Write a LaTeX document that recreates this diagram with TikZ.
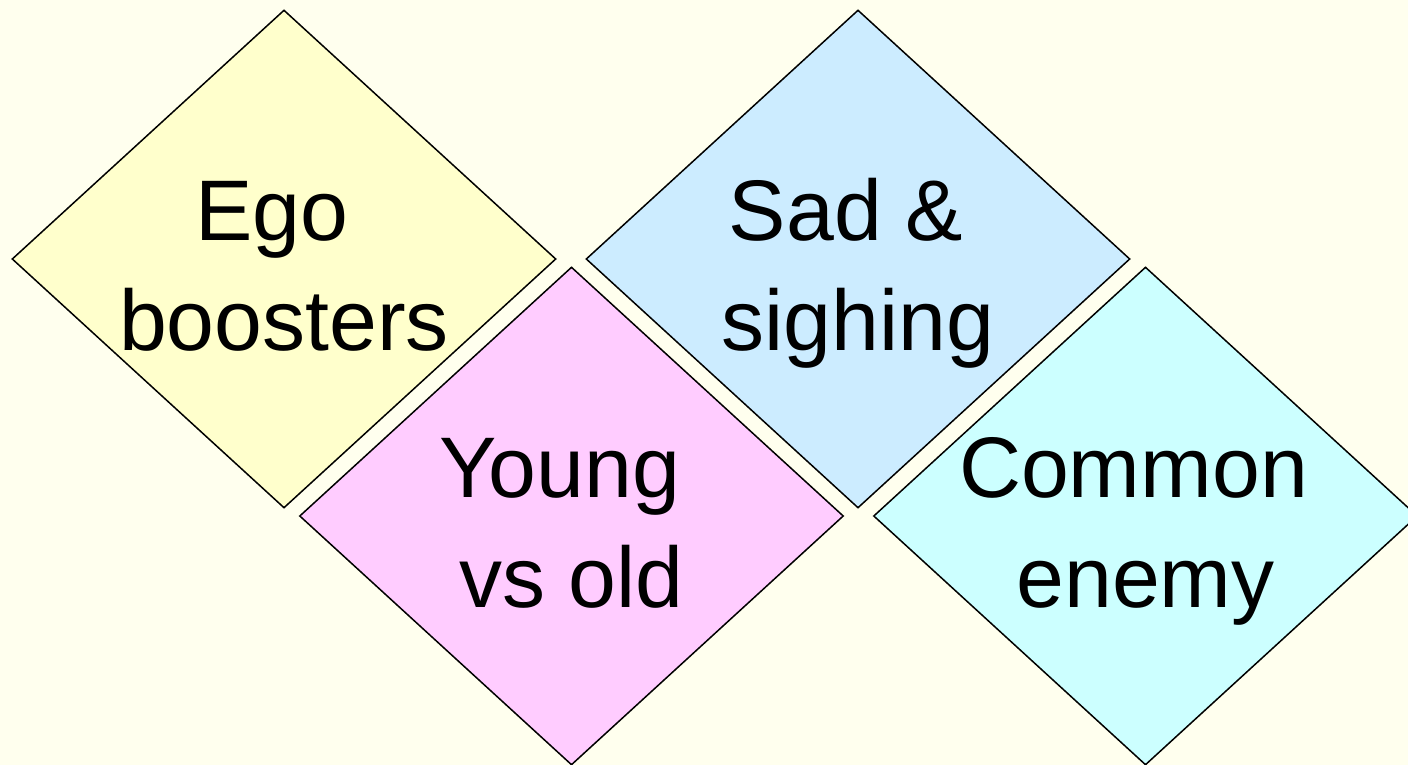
\documentclass[tikz,border=0pt]{standalone}
\usepackage{fontspec}
\setmainfont{Liberation Sans}
\usetikzlibrary{shapes.geometric}

\definecolor{bgcream}{RGB}{255,255,238}
\definecolor{egoyellow}{RGB}{255,255,204}
\definecolor{sadblue}{RGB}{204,236,255}
\definecolor{youngpink}{RGB}{255,204,255}
\definecolor{enemycyan}{RGB}{204,255,255}

\begin{document}
\begin{tikzpicture}[x=1pt,y=1pt,node distance=574pt,
  main node/.style={diamond,draw,line width=1.5pt,inner sep=0pt,
    minimum width=544pt,minimum height=498pt},
  word node/.style={align=center,font=\fontsize{86}{110}\selectfont,yshift=-14pt}]

  \clip (0,0) rectangle (1408,-765);
  \fill[bgcream] (0,0) rectangle (1408,-765);

  \node[main node, fill=egoyellow] (ego) at (284,-259) {};
  \node[main node, fill=sadblue] (sad) [right of=ego] {};
  \node[main node, fill=youngpink] (young) at (571.5,-516) {};
  \node[main node, fill=enemycyan] (enemy) [right of=young] {};

  \node[word node] at (ego) {\strut Ego\hspace*{.28em}\\\strut boosters};
  \node[word node] at (sad) {\strut Sad \&\hspace*{.28em}\\\strut sighing};
  \node[word node] at (young) {\strut Young\hspace*{.28em}\\\strut vs old};
  \node[word node] at (enemy) {\strut Common\hspace*{.28em}\\\strut enemy};
\end{tikzpicture}
\end{document}
